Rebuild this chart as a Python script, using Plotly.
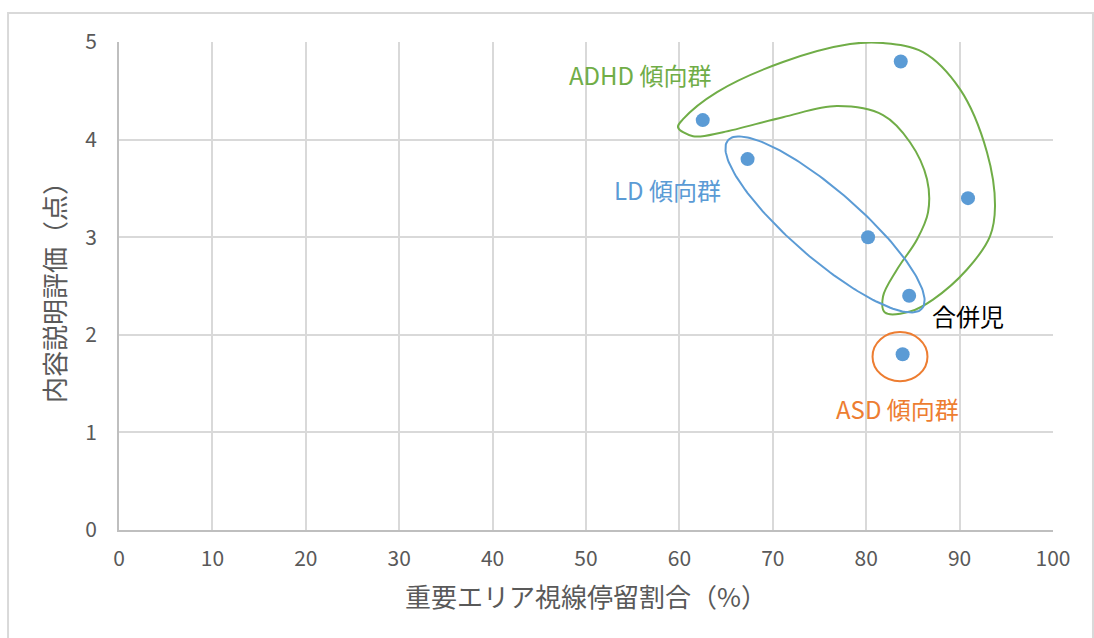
import numpy as np
import plotly.graph_objects as go

# Scatter data: gaze dwell ratio on key areas (%) vs. content-explanation score
dwell_pct = [62.5, 67.3, 83.7, 90.9, 80.2, 84.6, 83.9]
score = [4.2, 3.8, 4.8, 3.4, 3.0, 2.4, 1.8]

x_ticks = list(range(0, 101, 10))
y_ticks = [0, 1, 2, 3, 4, 5]

# Group labels
group_labels = ["ADHD 傾向群", "LD 傾向群", "合併児", "ASD 傾向群"]
group_label_x = [55.8, 58.7, 90.9, 83.3]
group_label_y = [4.67, 3.49, 2.2, 1.25]
group_colors = ["#70ad47", "#5b9bd5", "#000000", "#ed7d31"]

# Hand-drawn outline around the ADHD group (data coordinates)
adhd_outline_x = [82.01, 84.69, 87.15, 90.79, 93.25, 93.79, 92.93, 90.04, 86.08,
                  81.80, 78.27, 71.09, 64.03, 60.39, 59.85, 61.46, 64.67, 71.09,
                  76.87, 81.80, 84.69, 86.51, 86.62, 85.44, 83.30, 81.80, 82.01]
adhd_outline_y = [2.228, 2.238, 2.361, 2.669, 3.008, 3.316, 3.871, 4.517, 4.897,
                  4.99, 4.979, 4.795, 4.487, 4.209, 4.127, 4.035, 4.076, 4.230,
                  4.343, 4.251, 3.973, 3.593, 3.255, 2.977, 2.669, 2.392, 2.228]

GRID = "#d9d9d9"
AXIS = "#bfbfbf"
TEXT = "#595959"
FONT = "Noto Sans CJK JP"

fig = go.Figure()

fig.add_trace(go.Scatter(
    x=adhd_outline_x, y=adhd_outline_y, mode="lines",
    line=dict(color="#70ad47", width=2, shape="spline", smoothing=1.0),
    hoverinfo="skip", showlegend=False,
))

# LD group: tilted ellipse
t = np.linspace(0, 2 * np.pi, 181)
cx, cy = 75.59, 3.131
ax_major = (10.39, -0.862)
ax_minor = (-2.40, -0.266)
ld_x = cx + ax_major[0] * np.cos(t) + ax_minor[0] * np.sin(t)
ld_y = cy + ax_major[1] * np.cos(t) + ax_minor[1] * np.sin(t)
fig.add_trace(go.Scatter(
    x=ld_x, y=ld_y, mode="lines",
    line=dict(color="#5b9bd5", width=2),
    hoverinfo="skip", showlegend=False,
))

# ASD group: circle around the single point
fig.add_shape(type="circle", xref="x", yref="y",
              x0=83.62 - 2.94, x1=83.62 + 2.94,
              y0=1.776 - 0.252, y1=1.776 + 0.252,
              line=dict(color="#ed7d31", width=2))

fig.add_trace(go.Scatter(
    x=dwell_pct, y=score, mode="markers",
    marker=dict(color="#5b9bd5", size=14),
    showlegend=False,
))

for txt, lx, ly, col in zip(group_labels, group_label_x, group_label_y, group_colors):
    fig.add_annotation(x=lx, y=ly, xref="x", yref="y", text=txt, showarrow=False,
                       font=dict(family=FONT, size=24, color=col))

# Outer chart frame
fig.add_shape(type="rect", xref="paper", yref="paper",
              x0=-0.1188, x1=1.0428, y0=-0.4, y1=1.0594,
              line=dict(color="#d9d9d9", width=2), layer="below")

fig.update_layout(
    width=1094, height=638,
    margin=dict(l=119, r=41, t=42, b=108),
    paper_bgcolor="white", plot_bgcolor="white",
    font=dict(family=FONT, color=TEXT, size=21),
    xaxis=dict(
        range=[0, 100], tickvals=x_ticks, showgrid=True, gridcolor=GRID, gridwidth=2,
        showline=True, linecolor=AXIS, linewidth=2, zeroline=False,
        ticks="", tickfont=dict(size=21, color=TEXT), ticklabelstandoff=9,
        title=dict(text="重要エリア視線停留割合（%）", font=dict(size=26, color=TEXT), standoff=18),
    ),
    yaxis=dict(
        range=[0, 5], tickvals=y_ticks, showgrid=True, gridcolor=GRID, gridwidth=2,
        showline=True, linecolor=AXIS, linewidth=2, zeroline=False,
        ticks="", tickfont=dict(size=21, color=TEXT), ticklabelstandoff=16,
        title=dict(text="内容説明評価（点）", font=dict(size=26, color=TEXT), standoff=12),
    ),
)

fig.write_html("out.html")
